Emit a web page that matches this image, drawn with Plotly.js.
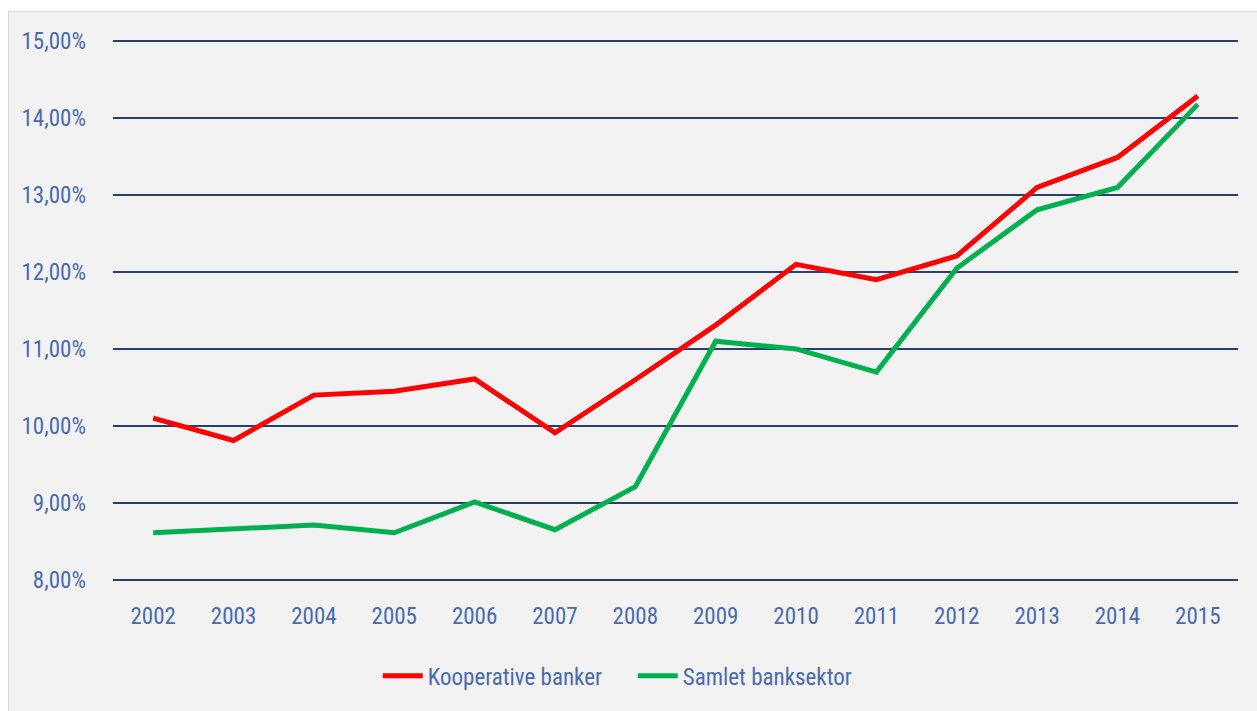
<!DOCTYPE html>
<html>
<head>
<meta charset="utf-8">
<script src="https://cdn.plot.ly/plotly-3.0.1.min.js"></script>
<style>
  html, body { margin: 0; padding: 0; background: #ffffff; width: 1257px; height: 711px; overflow: hidden; }
  #frame { position: absolute; left: 8px; top: 11px; width: 1249px; height: 700px; background: #f2f2f2;
           border-left: 1.5px solid #d9d9d9; border-top: 1.5px solid #d9d9d9; box-sizing: border-box; }
  #chart { width: 100%; height: 100%; }
</style>
</head>
<body>
<div id="frame"><div id="chart"></div></div>
<script>
const years = ['2002','2003','2004','2005','2006','2007','2008','2009','2010','2011','2012','2013','2014','2015'];
const kooperativeBanker = [10.10, 9.81, 10.40, 10.45, 10.61, 9.91, 10.60, 11.31, 12.10, 11.90, 12.21, 13.10, 13.49, 14.29];
const samletBanksektor = [8.61, 8.66, 8.71, 8.61, 9.01, 8.65, 9.21, 11.10, 11.00, 10.70, 12.05, 12.81, 13.10, 14.18];
const seriesNames = ['Kooperative banker', 'Samlet banksektor'];
const yTicks = [8, 9, 10, 11, 12, 13, 14, 15];
const yTickText = yTicks.map(v => v.toFixed(2).replace('.', ',') + '%');

const fontFam = '"Roboto Condensed", "DejaVu Sans Condensed", sans-serif';
const txtColor = '#4a6aad';

const traces = [
  { x: years, y: kooperativeBanker, name: seriesNames[0], type: 'scatter', mode: 'lines',
    line: { color: '#ff0000', width: 5 }, hoverinfo: 'skip' },
  { x: years, y: samletBanksektor, name: seriesNames[1], type: 'scatter', mode: 'lines',
    line: { color: '#00b050', width: 5 }, hoverinfo: 'skip' }
];

const layout = {
  width: 1249, height: 700,
  paper_bgcolor: '#f2f2f2', plot_bgcolor: '#f2f2f2',
  margin: { l: 104, r: 20, t: 27, b: 130, autoexpand: false },
  font: { family: fontFam, color: txtColor, size: 23 },
  showlegend: true,
  legend: { orientation: 'h', x: 0.462, xanchor: 'center', y: -0.133, yanchor: 'top',
            font: { family: fontFam, color: txtColor, size: 23 }, bgcolor: 'rgba(0,0,0,0)',
            itemwidth: 40, entrywidth: 200 },
  xaxis: { type: 'category', range: [-0.5, 13.5], showgrid: false, zeroline: false, showline: false,
           ticks: '', ticklabelstandoff: 18, tickfont: { size: 23, family: fontFam, color: txtColor } },
  yaxis: { range: [7.97, 15.03], tickvals: yTicks, ticktext: yTickText,
           showgrid: true, gridcolor: '#2b3f6c', gridwidth: 2, zeroline: false, showline: false,
           ticks: '', ticklabelstandoff: 26, tickfont: { size: 23, family: fontFam, color: txtColor } }
};

Plotly.newPlot('chart', traces, layout, { displayModeBar: false, staticPlot: true });
</script>
</body>
</html>
